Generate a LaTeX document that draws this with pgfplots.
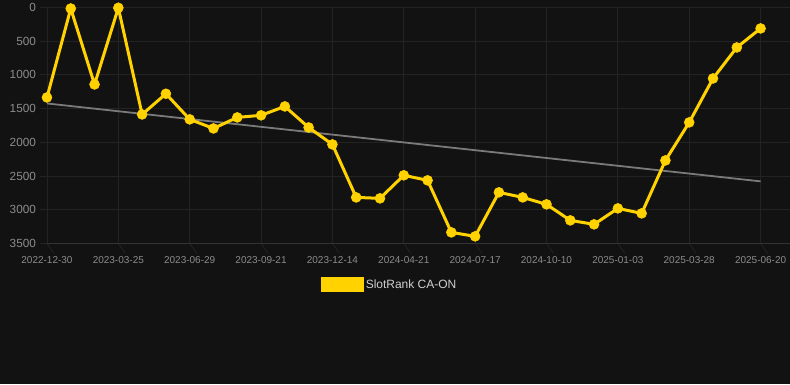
\documentclass[border=0pt]{standalone}
\usepackage{fontspec}
\setmainfont{Liberation Sans}
\usepackage{pgfplots}
\pgfplotsset{compat=1.18}
\definecolor{bg}{HTML}{121212}
\definecolor{gridc}{HTML}{232323}
\definecolor{axisc}{HTML}{333333}
\definecolor{ticklab}{HTML}{8C8C8C}
\definecolor{legtext}{HTML}{D0D0D0}
\definecolor{gold}{HTML}{FFD200}
\definecolor{trend}{HTML}{7A7A7A}
\begin{document}
\begin{tikzpicture}[x=1bp,y=1bp]
\fill[bg] (0,0) rectangle (790,384);
\begin{axis}[
  at={(40bp,141bp)}, anchor=south west,
  scale only axis, width=750bp, height=236bp,
  xmin=-0.294, xmax=31.22, ymin=0, ymax=3500, y dir=reverse,
  axis line style={draw=none},
  grid=major, grid style={gridc, line width=0.8bp},
  xtick={0,3,...,30},
  xticklabels={2022-12-30,2023-03-25,2023-06-29,2023-09-21,2023-12-14,2024-04-21,2024-07-17,2024-10-10,2025-01-03,2025-03-28,2025-06-20},
  ytick={0,500,...,3500},
  /pgf/number format/assume math mode=true,
  yticklabel style={font=\fontsize{11.8bp}{13bp}\selectfont, text=ticklab, xshift=-0.5bp},
  xticklabel style={font=\fontsize{10bp}{12bp}\selectfont, text=ticklab, anchor=center, yshift=-17bp},
  scaled y ticks=false,
  y tick label style={/pgf/number format/.cd, fixed, 1000 sep={}},
  major tick length=0pt,
  clip=false,
  legend style={at={(axis description cs:0.4667,-0.1737)}, anchor=center, draw=none, fill=none, text=legtext, font=\fontsize{12bp}{14bp}\selectfont, inner sep=0pt},
  legend image code/.code={\fill[gold] (0.5bp,-5.5bp) rectangle (40bp,6bp);},
]
\addplot[trend, line width=1.8bp, forget plot] coordinates {(0,1424) (30,2580)};
\addplot[gold, line width=3bp, mark=*, mark size=5bp, mark options={fill=gold, draw=gold, line width=0.5bp}] coordinates {
(0,1335) (1,15) (2,1142) (3,5) (4,1587) (5,1280) (6,1660) (7,1795) (8,1631) (9,1600)
(10,1468) (11,1780) (12,2032) (13,2818) (14,2832) (15,2490) (16,2565) (17,3337) (18,3396) (19,2743)
(20,2818) (21,2921) (22,3159) (23,3218) (24,2981) (25,3055) (26,2269) (27,1705) (28,1053) (29,593) (30,311)};
\addlegendentry{SlotRank CA-ON}
\draw[gridc, line width=0.8bp] \foreach \i in {0,3,...,30} {(axis cs:\i,3500) -- ++(0,-10bp)};
\draw[axisc, line width=0.8bp] (axis cs:0,3500) -- (axis cs:31.22,3500);
\end{axis}
\end{tikzpicture}
\end{document}
